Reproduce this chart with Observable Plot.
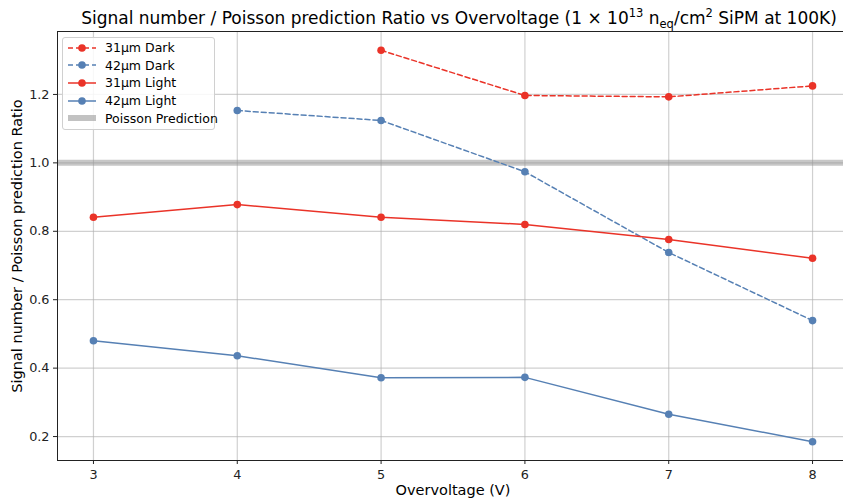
<!DOCTYPE html>
<html>
<head>
<meta charset="utf-8">
<script src="https://cdn.jsdelivr.net/npm/d3@7"></script>
<script src="https://cdn.jsdelivr.net/npm/@observablehq/plot@0.6"></script>
<style>
  body { margin: 0; background: #fff; font-family: "DejaVu Sans", sans-serif; }
  #wrap { position: relative; width: 843px; height: 502px; overflow: hidden; }
  #title { position: absolute; left: 57px; width: 804px; top: 6px; text-align: center; font-size: 17px; color: #000; white-space: nowrap; }
  #title sup { font-size: 11.5px; }
  #title sub { font-size: 11.5px; }
  #chart { position: absolute; left: 0; top: 29px; }
  #legend { position: absolute; left: 62px; top: 37px; width: 151px; background: rgba(255,255,255,0.85); border: 1px solid #d0d0d0; border-radius: 3px; padding: 1px 0 2px 0; font-size: 12.5px; color: #000; white-space: nowrap; }
  .li { display: flex; align-items: center; height: 17.6px; }
  .li svg { margin-left: 4px; margin-right: 8px; flex: none; }
</style>
</head>
<body>
<div id="wrap">
  <div id="title">Signal number / Poisson prediction Ratio vs Overvoltage (1 × 10<sup>13</sup> n<sub>eq</sub>/cm<sup>2</sup> SiPM at 100K)</div>
  <div id="chart"></div>
  <div id="legend"></div>
</div>
<script>
const seriesNames = ["31µm Dark", "42µm Dark", "31µm Light", "42µm Light"];
const seriesColors = ["#ea3328", "#5680b4", "#ea3328", "#5680b4"];
const seriesDash = ["5,3", "5,3", null, null];
const dark31X = [5, 6, 7, 8];
const dark31Y = [1.329, 1.197, 1.193, 1.225];
const dark42X = [4, 5, 6, 7, 8];
const dark42Y = [1.153, 1.124, 0.974, 0.738, 0.539];
const light31X = [3, 4, 5, 6, 7, 8];
const light31Y = [0.841, 0.878, 0.841, 0.820, 0.776, 0.721];
const light42X = [3, 4, 5, 6, 7, 8];
const light42Y = [0.480, 0.436, 0.372, 0.373, 0.265, 0.185];
const poissonValue = [1.0];
const xTicks = [3, 4, 5, 6, 7, 8];
const yTicks = [0.2, 0.4, 0.6, 0.8, 1.0, 1.2];

const xs = [dark31X, dark42X, light31X, light42X];
const ys = [dark31Y, dark42Y, light31Y, light42Y];
const series = seriesNames.map((name, i) => ({
  name, color: seriesColors[i], dash: seriesDash[i],
  data: xs[i].map((x, j) => ({x, y: ys[i][j]}))
}));

const marks = [
  Plot.gridX(xTicks, {stroke: "#b0b0b0", strokeOpacity: 0.6, strokeWidth: 1.2}),
  Plot.gridY(yTicks, {stroke: "#b0b0b0", strokeOpacity: 0.6, strokeWidth: 1.2}),
  Plot.ruleY(poissonValue, {stroke: "#909090", strokeOpacity: 0.5, strokeWidth: 6}),
];
for (const s of series) {
  marks.push(Plot.line(s.data, {x: "x", y: "y", stroke: s.color, strokeWidth: 1.5, strokeDasharray: s.dash || undefined}));
  marks.push(Plot.dot(s.data, {x: "x", y: "y", fill: s.color, r: 3.8}));
}
marks.push(Plot.frame({stroke: "#222", strokeWidth: 1, anchor: "left"}));
marks.push(Plot.frame({stroke: "#222", strokeWidth: 1, anchor: "top"}));
marks.push(Plot.frame({stroke: "#222", strokeWidth: 1, anchor: "bottom"}));
marks.push(Plot.axisX(xTicks, {tickSize: 4, tickPadding: 5, fontSize: 12.8, label: null, tickFormat: d => String(d)}));
marks.push(Plot.axisY(yTicks, {tickSize: 4, tickPadding: 4, fontSize: 12.8, label: null, tickFormat: d => d.toFixed(1)}));
marks.push(Plot.text(["Overvoltage (V)"], {frameAnchor: "bottom", dy: 34, fontSize: 14.5, fill: "#000"}));
marks.push(Plot.text(["Signal number / Poisson prediction Ratio"], {frameAnchor: "left", dx: -40, rotate: -90, textAnchor: "middle", fontSize: 14.5, fill: "#000"}));

const chart = Plot.plot({
  width: 843,
  height: 473,
  marginTop: 2,
  marginLeft: 57,
  marginRight: -5,
  marginBottom: 42,
  style: {fontFamily: "DejaVu Sans, sans-serif", color: "#222", background: "transparent", overflow: "visible"},
  x: {domain: [2.75, 8.25]},
  y: {domain: [0.13, 1.384]},
  marks
});
document.getElementById("chart").appendChild(chart);

// legend
const leg = document.getElementById("legend");
const legendItems = series.map(s => ({name: s.name, color: s.color, dash: s.dash, kind: "line"}))
  .concat([{name: "Poisson Prediction", color: "#909090", kind: "band"}]);
for (const it of legendItems) {
  const row = document.createElement("div");
  row.className = "li";
  const sw = it.kind === "band"
    ? `<svg width="30" height="10"><line x1="1" x2="29" y1="5" y2="5" stroke="${it.color}" stroke-opacity="0.55" stroke-width="6"/></svg>`
    : `<svg width="30" height="10"><line x1="1" x2="29" y1="5" y2="5" stroke="${it.color}" stroke-width="1.5" ${it.dash ? `stroke-dasharray="${it.dash}"` : ""}/><circle cx="15" cy="5" r="3.8" fill="${it.color}"/></svg>`;
  row.innerHTML = sw + `<span>${it.name}</span>`;
  leg.appendChild(row);
}
</script>
</body>
</html>
